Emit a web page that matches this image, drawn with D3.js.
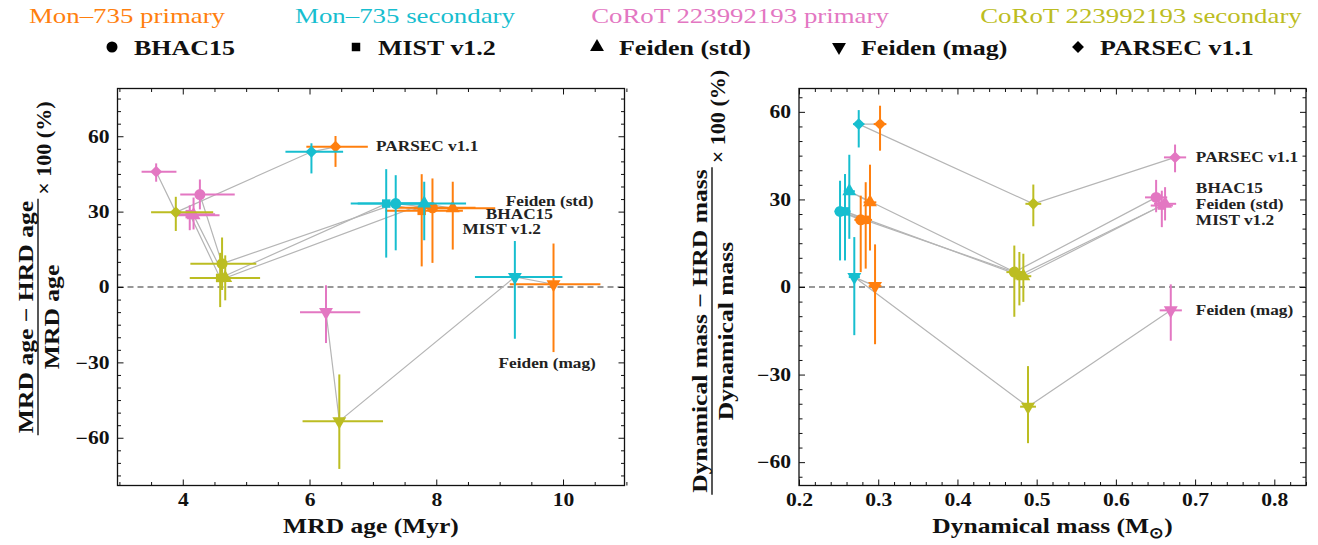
<!DOCTYPE html>
<html>
<head>
<meta charset="utf-8">
<script src="https://cdn.jsdelivr.net/npm/d3@7"></script>
<style>
  body { margin: 0; background: #fff; }
  svg text { font-family: "Liberation Serif", "Times New Roman", serif; }
</style>
</head>
<body>
<svg id="chart" width="1318" height="545"></svg>
<script>
/*
 * Data
 */
var stars = ["Mon–735 primary", "Mon–735 secondary", "CoRoT 223992193 primary", "CoRoT 223992193 secondary"];
var models = ["BHAC15", "MIST v1.2", "Feiden (std)", "Feiden (mag)", "PARSEC v1.1"];

// left panel, one row per model: [MRD age, err-, err+, (MRD-HRD)/MRD %, err-, err+]
var monPriAge = [
  [7.94, 0.60, 0.68, 31.5, 21.9, 11.7],
  [7.77, 0.57, 0.65, 30.3, 22.1, 14.6],
  [8.26, 0.62, 0.67, 31.3, 16.4, 10.6],
  [9.85, 0.69, 0.74, 1.1, 27.0, 16.2],
  [6.41, 0.46, 0.51, 55.8, 8.0, 4.3]
];
var monSecAge = [
  [7.36, 0.60, 0.60, 33.2, 18.6, 11.3],
  [7.21, 0.56, 0.60, 33.2, 21.5, 13.7],
  [7.81, 0.66, 0.66, 33.2, 14.6, 8.7],
  [9.24, 0.63, 0.75, 4.0, 24.6, 14.3],
  [6.03, 0.41, 0.50, 53.8, 8.6, 3.4]
];
var corPriAge = [
  [4.27, 0.31, 0.55, 36.8, 5.9, 6.0],
  [4.11, 0.26, 0.40, 29.0, 6.4, 3.5],
  [4.17, 0.30, 0.41, 28.6, 5.7, 7.0],
  [6.26, 0.41, 0.54, -10.0, 12.3, 10.7],
  [3.58, 0.23, 0.32, 45.9, 4.0, 3.3]
];
var corSecAge = [
  [4.62, 0.50, 0.54, 9.3, 10.5, 10.4],
  [4.59, 0.48, 0.60, 3.6, 11.6, 10.0],
  [4.67, 0.50, 0.55, 3.6, 8.9, 9.0],
  [6.47, 0.58, 0.69, -53.4, 19.0, 18.6],
  [3.89, 0.39, 0.59, 29.7, 7.4, 6.2]
];

// right panel, one row per model: [dynamical mass, err-, err+, (dyn-HRD)/dyn %, err-, err+]
var monPriMass = [
  [0.2779, 0.008, 0.008, 23.0, 17.9, 8.3],
  [0.2842, 0.008, 0.008, 23.0, 16.7, 12.9],
  [0.2896, 0.008, 0.008, 29.0, 16.5, 12.9],
  [0.2960, 0.008, 0.008, 0.3, 19.9, 14.3],
  [0.3023, 0.008, 0.008, 55.8, 9.1, 6.3]
];
var monSecMass = [
  [0.2518, 0.007, 0.007, 25.9, 16.8, 10.5],
  [0.2581, 0.007, 0.007, 25.9, 16.8, 12.8],
  [0.2635, 0.007, 0.007, 32.8, 16.3, 12.5],
  [0.2698, 0.007, 0.007, 3.4, 19.9, 13.7],
  [0.2754, 0.007, 0.007, 55.8, 8.0, 4.8]
];
var corPriMass = [
  [0.6508, 0.014, 0.014, 30.7, 5.1, 6.0],
  [0.6580, 0.014, 0.014, 27.9, 7.4, 5.1],
  [0.6621, 0.014, 0.014, 28.5, 5.7, 5.7],
  [0.6693, 0.014, 0.014, -8.0, 10.4, 8.9],
  [0.6747, 0.014, 0.014, 44.4, 5.1, 4.4]
];
var corSecMass = [
  [0.4718, 0.010, 0.010, 5.1, 15.3, 9.1],
  [0.4782, 0.010, 0.010, 4.0, 10.3, 8.0],
  [0.4832, 0.010, 0.010, 3.7, 8.8, 7.7],
  [0.4891, 0.010, 0.010, -41.0, 12.5, 13.9],
  [0.4958, 0.010, 0.010, 28.5, 7.7, 6.6]
];

// tick labels
var ageTicks = [4, 6, 8, 10];
var massTicks = [0.2, 0.3, 0.4, 0.5, 0.6, 0.7, 0.8];
var pctTicks = [-60, -30, 0, 30, 60];

// model labels written on the panels, in data units
var ageNotes = [
  ["PARSEC v1.1", 7.05, 56.1, "start"],
  ["Feiden (std)", 10.48, 34.4, "end"],
  ["BHAC15", 9.84, 29.0, "end"],
  ["MIST v1.2", 9.65, 23.3, "end"],
  ["Feiden (mag)", 9.75, -30.0, "middle"]
];
var massNotes = [
  ["PARSEC v1.1", 0.701, 44.5, "start"],
  ["BHAC15", 0.701, 34.0, "start"],
  ["Feiden (std)", 0.701, 28.5, "start"],
  ["MIST v1.2", 0.701, 23.2, "start"],
  ["Feiden (mag)", 0.701, -7.9, "start"]
];

var starColors = ["#ff7f0e", "#17becf", "#e377c2", "#bcbd22"];
// grey lines join the stars in this order
var joinOrder = [0, 1, 3, 2];

var svg = d3.select("#chart");

var symbols = [
  d3.symbol().type(d3.symbolCircle).size(95),
  d3.symbol().type(d3.symbolSquare).size(72),
  d3.symbol().type(d3.symbolTriangle).size(84),
  d3.symbol().type(d3.symbolTriangle).size(84),
  d3.symbol().type(d3.symbolDiamond2).size(90)
];

// widen glyphs a little, the original face is broader than Times
function stretch(sel, f) {
  sel.each(function () {
    var len = this.getComputedTextLength();
    if (len > 0) {
      d3.select(this).attr("textLength", len * f).attr("lengthAdjust", "spacingAndGlyphs");
    }
  });
}

/*
 * Legend
 */
var legendCenters = [127, 405, 740, 1141];
stars.forEach(function (s, i) {
  svg.append("text")
    .attr("x", legendCenters[i]).attr("y", 15)
    .attr("dy", "0.35em")
    .attr("text-anchor", "middle")
    .attr("font-size", 22)
    .attr("fill", starColors[i])
    .text(s)
    .call(stretch, 1.22);
});
var legendMarkX = [112, 356, 597, 839, 1078];
models.forEach(function (m, k) {
  svg.append("path")
    .attr("transform", "translate(" + legendMarkX[k] + ",47)" + (k == 3 ? " rotate(180)" : ""))
    .attr("d", symbols[k]())
    .attr("fill", "#000");
  svg.append("text")
    .attr("x", legendMarkX[k] + 22).attr("y", 47)
    .attr("dy", "0.35em")
    .attr("font-size", 22)
    .attr("font-weight", "bold")
    .attr("fill", "#111")
    .text(m)
    .call(stretch, 1.18);
});

/*
 * Panels
 */
function drawPanel(p) {
  var x = d3.scaleLinear().domain(p.xDomain).range([p.x0, p.x1]);
  var y = d3.scaleLinear().domain(p.yDomain).range([p.y1, p.y0]);
  var g = svg.append("g");

  g.append("line")
    .attr("x1", p.x0).attr("x2", p.x1)
    .attr("y1", y(0)).attr("y2", y(0))
    .attr("stroke", "#777").attr("stroke-width", 1.6)
    .attr("stroke-dasharray", "6,4");

  // grey connecting lines, one per model
  var line = d3.line()
    .x(function (d) { return x(d[0]); })
    .y(function (d) { return y(d[3]); });
  models.forEach(function (m, k) {
    var pts = joinOrder.map(function (s) { return p.series[s][k]; });
    g.append("path").datum(pts)
      .attr("d", line)
      .attr("fill", "none")
      .attr("stroke", "#b5b5b5")
      .attr("stroke-width", 1.2);
  });

  p.series.forEach(function (rows, s) {
    var col = starColors[s];
    var sg = g.append("g");
    sg.selectAll("line.xe").data(rows).enter().append("line")
      .attr("x1", function (d) { return x(d[0] - d[1]); })
      .attr("x2", function (d) { return x(d[0] + d[2]); })
      .attr("y1", function (d) { return y(d[3]); })
      .attr("y2", function (d) { return y(d[3]); })
      .attr("stroke", col).attr("stroke-width", 2);
    sg.selectAll("line.ye").data(rows).enter().append("line")
      .attr("x1", function (d) { return x(d[0]); })
      .attr("x2", function (d) { return x(d[0]); })
      .attr("y1", function (d) { return y(d[3] - d[4]); })
      .attr("y2", function (d) { return y(d[3] + d[5]); })
      .attr("stroke", col).attr("stroke-width", 2);
    sg.selectAll("path.mk").data(rows).enter().append("path")
      .attr("transform", function (d, k) {
        return "translate(" + x(d[0]) + "," + y(d[3]) + ")" + (k == 3 ? " rotate(180)" : "");
      })
      .attr("d", function (d, k) { return symbols[k](); })
      .attr("fill", col);
  });

  p.notes.forEach(function (n) {
    g.append("text")
      .attr("x", x(n[1])).attr("y", y(n[2]))
      .attr("dy", "0.35em")
      .attr("text-anchor", n[3])
      .attr("font-size", 15)
      .attr("font-weight", "bold")
      .attr("fill", "#222")
      .text(n[0])
      .call(stretch, 1.15);
  });

  // axes, ticks pointing inwards on all four sides
  function styleAxis(a) {
    a.select(".domain").remove();
    a.selectAll(".tick line").attr("stroke", "#111").attr("stroke-width", 1);
    a.attr("font-size", 18).attr("font-weight", "bold").attr("font-family", null);
    a.selectAll("text").attr("fill", "#111").call(stretch, 1.2);
  }
  function addAxes(ticksX, ticksY, size, withLabels) {
    var fx = withLabels ? p.xFormat : function () { return ""; };
    var fy = withLabels ? d3.format("d") : function () { return ""; };
    g.append("g").attr("transform", "translate(0," + p.y1 + ")")
      .call(d3.axisBottom(x).tickValues(ticksX).tickSizeInner(-size).tickSizeOuter(0).tickPadding(8).tickFormat(fx))
      .call(styleAxis);
    g.append("g").attr("transform", "translate(0," + p.y0 + ")")
      .call(d3.axisTop(x).tickValues(ticksX).tickSizeInner(-size).tickSizeOuter(0).tickFormat(""))
      .call(styleAxis);
    g.append("g").attr("transform", "translate(" + p.x0 + ",0)")
      .call(d3.axisLeft(y).tickValues(ticksY).tickSizeInner(-size).tickSizeOuter(0).tickPadding(8).tickFormat(fy))
      .call(styleAxis);
    g.append("g").attr("transform", "translate(" + p.x1 + ",0)")
      .call(d3.axisRight(y).tickValues(ticksY).tickSizeInner(-size).tickSizeOuter(0).tickFormat(""))
      .call(styleAxis);
  }
  addAxes(p.xTicks, pctTicks, 6, true);
  addAxes(p.xMinor, p.yMinor, 3.5, false);

  g.append("rect")
    .attr("x", p.x0).attr("y", p.y0)
    .attr("width", p.x1 - p.x0).attr("height", p.y1 - p.y0)
    .attr("fill", "none").attr("stroke", "#111").attr("stroke-width", 1.3);

  var xl = g.append("text")
    .attr("x", (p.x0 + p.x1) / 2).attr("y", 533)
    .attr("text-anchor", "middle")
    .attr("font-size", 22).attr("font-weight", "bold").attr("fill", "#111")
    .call(p.xLabel);
  stretch(xl, 1.16);

  fracLabel(p.fx, p.fy, p.num, p.den);
}

/*
 * Y label: fraction followed by "× 100 (%)", rotated
 */
function fracLabel(cx, cy, num, den) {
  var lg = svg.append("g")
    .attr("transform", "translate(" + cx + "," + cy + ") rotate(-90)")
    .attr("font-size", 21).attr("font-weight", "bold").attr("fill", "#111");
  var tn = lg.append("text").attr("x", 0).attr("y", -12).attr("dy", "0.35em")
    .attr("text-anchor", "middle").text(num).call(stretch, 1.22);
  var td = lg.append("text").attr("x", 0).attr("y", 14).attr("dy", "0.35em")
    .attr("text-anchor", "middle").text(den).call(stretch, 1.22);
  var w = Math.max(+tn.attr("textLength"), +td.attr("textLength")) + 4;
  lg.append("line").attr("x1", -w / 2).attr("x2", w / 2).attr("y1", 0).attr("y2", 0)
    .attr("stroke", "#111").attr("stroke-width", 1.4);
  lg.append("text").attr("x", w / 2 + 4).attr("y", 6).attr("dy", "0.35em")
    .attr("font-size", 21)
    .text("× 100 (%)")
    .call(stretch, 1.05);
}

var ageMinor = d3.range(3, 11.01, 0.5).filter(function (v) { return v % 2 != 0; });
var pctMinor = d3.range(-75, 76, 5).filter(function (v) { return v % 30 != 0; });
var massMinor = d3.range(0.2, 0.845, 0.02).filter(function (v) {
  return Math.abs(v * 10 - Math.round(v * 10)) > 0.01;
});
var pctMinorR = d3.range(-65, 66, 5).filter(function (v) { return v % 30 != 0; });

drawPanel({
  x0: 117.5, x1: 624.5, y0: 88.5, y1: 485.5,
  xDomain: [2.97, 10.97], yDomain: [-79, 79],
  xTicks: ageTicks, xMinor: ageMinor, yMinor: pctMinor,
  xFormat: d3.format("d"),
  series: [monPriAge, monSecAge, corPriAge, corSecAge],
  notes: ageNotes,
  xLabel: function (t) { t.text("MRD age (Myr)"); },
  fx: 38, fy: 317, num: "MRD age − HRD age", den: "MRD age"
});

drawPanel({
  x0: 799, x1: 1306, y0: 88.5, y1: 485.5,
  xDomain: [0.2, 0.84], yDomain: [-68, 68],
  xTicks: massTicks, xMinor: massMinor, yMinor: pctMinorR,
  xFormat: d3.format(".1f"),
  series: [monPriMass, monSecMass, corPriMass, corSecMass],
  notes: massNotes,
  xLabel: function (t) {
    t.append("tspan").text("Dynamical mass (M");
    t.append("tspan").attr("font-size", 15).attr("dy", 5).text("⊙");
    t.append("tspan").attr("dy", -5).text(")");
  },
  fx: 712, fy: 331, num: "Dynamical mass − HRD mass", den: "Dynamical mass"
});
</script>
</body>
</html>
